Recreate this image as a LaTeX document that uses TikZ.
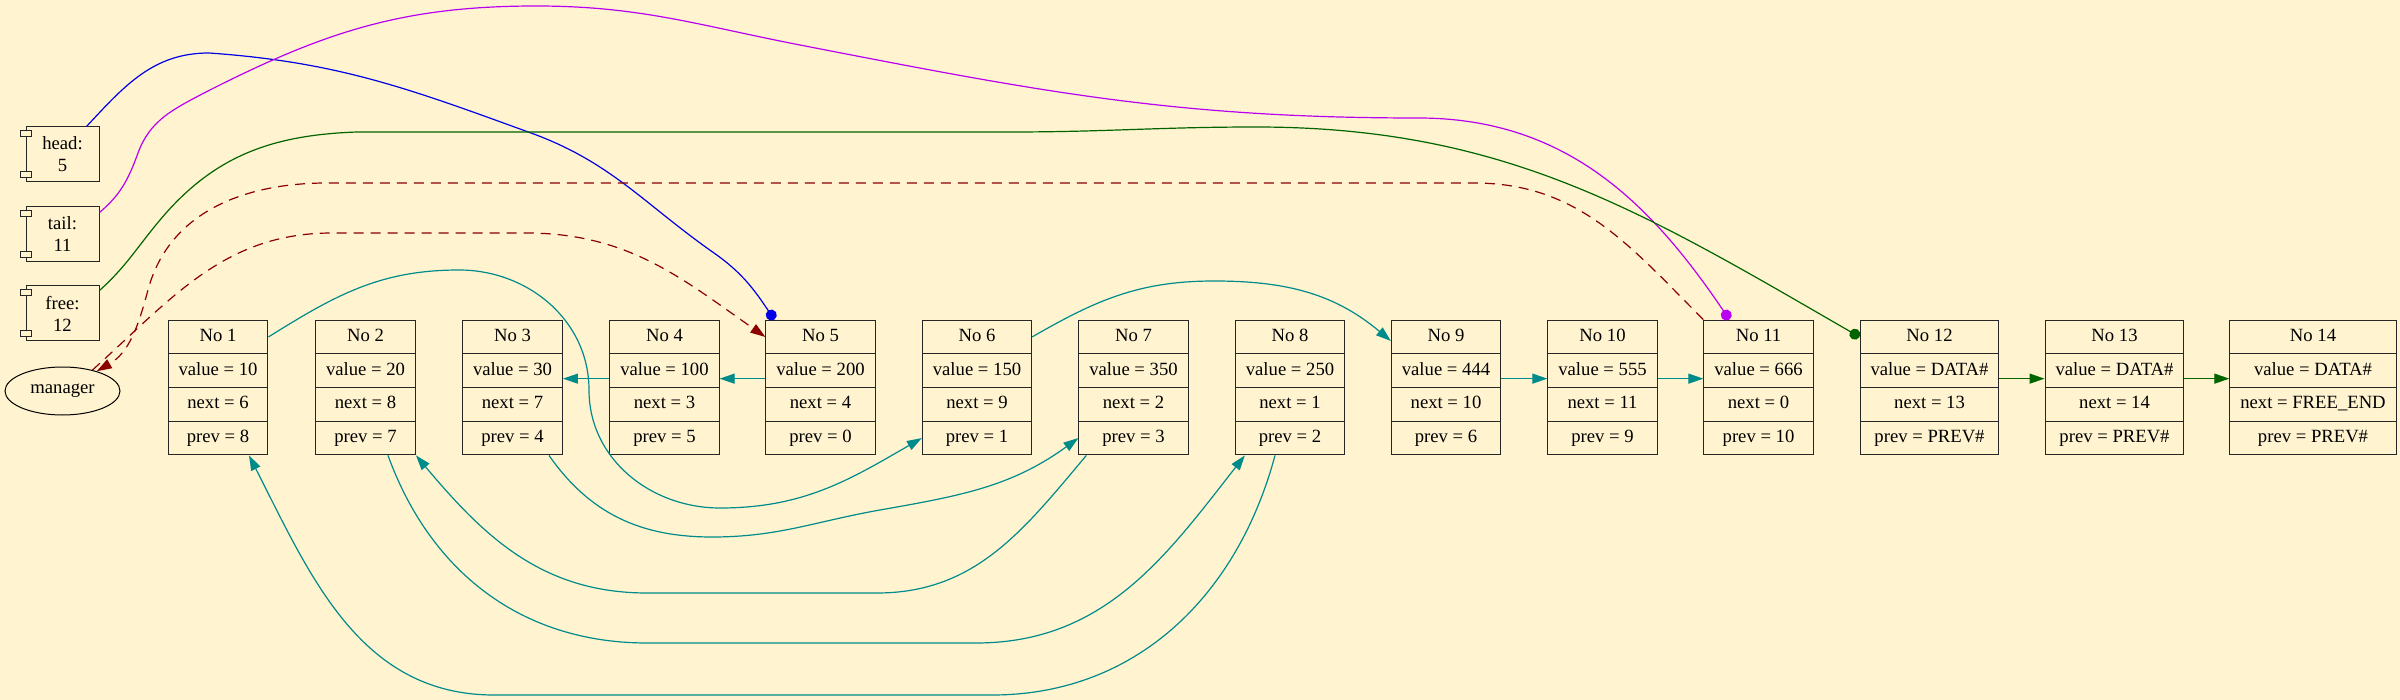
\documentclass[tikz,border=0pt]{standalone}
\usepackage{fontspec}
\setmainfont{Liberation Serif}
\usetikzlibrary{arrows.meta, positioning, shapes.multipart, shapes.geometric}
\definecolor{bgcream}{RGB}{255, 243, 208}
\definecolor{linkteal}{RGB}{0, 139, 139}
\definecolor{headblue}{RGB}{0, 0, 230}
\definecolor{tailpurple}{RGB}{185, 0, 240}
\definecolor{freegreen}{RGB}{0, 100, 0}
\definecolor{mgrred}{RGB}{139, 0, 0}

\begin{document}
\begin{tikzpicture}[
    x=1pt, y=1pt,
    font=\fontsize{18.67}{22}\selectfont,
    record/.style={
        rectangle split, rectangle split parts=4,
        draw=black!85, line width=1pt, fill=bgcream,
        inner xsep=10.5pt, inner ysep=5.35pt
    },
    component/.style={
        draw=black!85, line width=1pt, fill=bgcream,
        minimum width=73pt, minimum height=55pt,
        align=center, inner sep=0pt
    },
    comptab/.style={draw=black!85, line width=1pt, fill=bgcream},
    mgrnode/.style={
        ellipse, draw=black, line width=1pt,
        minimum width=115pt, minimum height=48pt, inner sep=0pt
    },
    link/.style={linkteal, line width=1.2pt, -{Triangle[length=15pt, width=10pt]}},
    freelink/.style={freegreen, line width=1.2pt, -{Triangle[length=15pt, width=10pt]}},
    pointer/.style={line width=1.2pt, -{Circle[length=11pt]}},
    mgrlink/.style={mgrred, line width=1.2pt, dash pattern=on 10pt off 7pt, -{Triangle[length=15pt, width=10pt]}}
]

% BACKGROUND - fixes the page size
\fill[bgcream] (0,0) rectangle (2400,-700);
\useasboundingbox (0,0) rectangle (2400,-700);

% LEFT COLUMN - list handles and the manager
\node[component] at (62.5,-154.5) (head) {head:\\5};
\node[component, below=24pt of head] (tail) {tail:\\11};
\node[component, below=23pt of tail] (free) {free:\\12};
\node[mgrnode, below=25pt of free] (manager) {manager};

\foreach \c in {head, tail, free} {
    \draw[comptab] ([xshift=-5.5pt, yshift=-4pt]\c.north west) rectangle ++(11.5,-6);
    \draw[comptab] ([xshift=-5.5pt, yshift=5pt]\c.south west) rectangle ++(11.5,6);
}

% RECORDS - one row of list cells
\node[record] at (218,-387.5) (n1) {\strut No 1\nodepart{two}\strut value = 10\nodepart{three}\strut next = 6\nodepart{four}\strut prev = 8};
\node[record] at (365.5,-387.5) (n2) {\strut No 2\nodepart{two}\strut value = 20\nodepart{three}\strut next = 8\nodepart{four}\strut prev = 7};
\node[record] at (512.5,-387.5) (n3) {\strut No 3\nodepart{two}\strut value = 30\nodepart{three}\strut next = 7\nodepart{four}\strut prev = 4};
\node[record] at (664.5,-387.5) (n4) {\strut No 4\nodepart{two}\strut value = 100\nodepart{three}\strut next = 3\nodepart{four}\strut prev = 5};
\node[record] at (820.5,-387.5) (n5) {\strut No 5\nodepart{two}\strut value = 200\nodepart{three}\strut next = 4\nodepart{four}\strut prev = 0};
\node[record] at (977,-387.5) (n6) {\strut No 6\nodepart{two}\strut value = 150\nodepart{three}\strut next = 9\nodepart{four}\strut prev = 1};
\node[record] at (1133.5,-387.5) (n7) {\strut No 7\nodepart{two}\strut value = 350\nodepart{three}\strut next = 2\nodepart{four}\strut prev = 3};
\node[record] at (1290,-387.5) (n8) {\strut No 8\nodepart{two}\strut value = 250\nodepart{three}\strut next = 1\nodepart{four}\strut prev = 2};
\node[record] at (1446,-387.5) (n9) {\strut No 9\nodepart{two}\strut value = 444\nodepart{three}\strut next = 10\nodepart{four}\strut prev = 6};
\node[record] at (1602.5,-387.5) (n10) {\strut No 10\nodepart{two}\strut value = 555\nodepart{three}\strut next = 11\nodepart{four}\strut prev = 9};
\node[record] at (1758.5,-387.5) (n11) {\strut No 11\nodepart{two}\strut value = 666\nodepart{three}\strut next = 0\nodepart{four}\strut prev = 10};
\node[record] at (1929.5,-387.5) (n12) {\strut No 12\nodepart{two}\strut value = DATA\#\nodepart{three}\strut next = 13\nodepart{four}\strut prev = PREV\#};
\node[record] at (2114.5,-387.5) (n13) {\strut No 13\nodepart{two}\strut value = DATA\#\nodepart{three}\strut next = 14\nodepart{four}\strut prev = PREV\#};
\node[record] at (2313,-387.5) (n14) {\strut No 14\nodepart{two}\strut value = DATA\#\nodepart{three}\strut next = FREE\_END\nodepart{four}\strut prev = PREV\#};

% ARROWS: NEIGHBOUR LINKS
\draw[link] ([yshift=-8pt]n5.two west) -- ([yshift=-8pt]n4.two east);
\draw[link] ([yshift=-8pt]n4.two west) -- ([yshift=-8pt]n3.two east);
\draw[link] ([yshift=-8pt]n9.two east) -- ([yshift=-8pt]n10.two west);
\draw[link] ([yshift=-8pt]n10.two east) -- ([yshift=-8pt]n11.two west);
\draw[freelink] ([yshift=-8pt]n12.two east) -- ([yshift=-8pt]n13.two west);
\draw[freelink] ([yshift=-8pt]n13.two east) -- ([yshift=-8pt]n14.two west);

% ARROWS: LINKS ABOVE THE ROW
\draw[link] (n1.text east) to[out=32, in=180] (459,-270) to[out=0, in=90] (589,-390)
    to[out=-90, in=180] (720,-508) to[out=0, in=210] (n6.four west);
\draw[link] (n6.text east) to[out=30, in=180] (1214,-281) to[out=0, in=140] ([yshift=-4pt]n9.text west);

% ARROWS: LINKS BELOW THE ROW
\draw[link] ([xshift=-14pt]n3.south east) to[out=-55, in=180] (712,-537) to[out=0, in=190] (880,-510)
    to[out=10, in=216] (n7.four west);
\draw[link] ([xshift=8pt]n7.south west) to[out=-130, in=0] (877,-593) -- (647,-593)
    to[out=180, in=-50] (n2.south east);
\draw[link] ([xshift=-28pt]n2.south east) to[out=-70, in=180] (647,-643) -- (976,-643)
    to[out=0, in=232] ([xshift=10pt]n8.south west);
\draw[link] ([xshift=-15pt]n8.south) to[out=-105, in=0] (992,-695) -- (494,-695)
    to[out=180, in=-63] ([xshift=31pt]n1.south);

% ARROWS: HANDLES -> RECORDS
\draw[pointer, headblue] ([xshift=-13pt]head.north east) to[out=47, in=180] (209,-53)
    to[out=-4, in=160] (531,-133) to[out=-20, in=145] (714,-253) to[out=-35, in=124] ([xshift=9pt]n5.north west);
\draw[pointer, tailpurple] ([yshift=-6pt]tail.north east) to[out=40, in=-110] (138,-153)
    to[out=70, in=208] (204,-93) to[out=27, in=180] (536,-6) to[out=0, in=169] (800,-45)
    to[out=-11, in=180] (1418,-118) to[out=0, in=124] ([xshift=26pt]n11.north west);
\draw[pointer, freegreen] ([yshift=-5pt]free.north east) to[out=42, in=230] (160,-220)
    to[out=50, in=182] (357,-132) -- (1010,-132) to[out=0, in=180] (1256,-127)
    to[out=0, in=150] (n12.text west);

% ARROWS: MANAGER
\draw[mgrlink] (n11.north west) to[out=135, in=0] (1474,-183) -- (327,-183)
    to[out=180, in=75] (148,-290) to[out=-105, in=30] (manager.30);
\draw[mgrlink] (manager.35) to[out=42, in=180] (332,-233) -- (526,-233)
    to[out=0, in=145] (n5.text west);

\end{tikzpicture}
\end{document}
